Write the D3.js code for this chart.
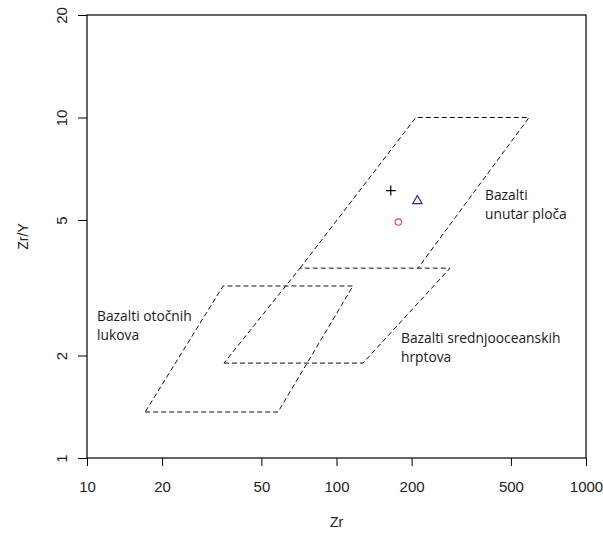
<!DOCTYPE html>
<html>
<head>
<meta charset="utf-8">
<script src="https://cdn.jsdelivr.net/npm/d3@7"></script>
<style>
  html, body { margin: 0; padding: 0; background: #fff; }
  svg { display: block; }
</style>
</head>
<body>
<script>
// ---- data ----
const xTicks = [10, 20, 50, 100, 200, 500, 1000];
const yTicks = [1, 2, 5, 10, 20];
const xDomain = [10, 1000];
const yDomain = [1, 20];

// field boundaries (Zr, Zr/Y)
const arcField  = [[17.1, 1.365], [58.3, 1.365], [116.4, 3.2], [35.1, 3.2], [17.1, 1.365]];
const morbField = [[35.4, 1.9], [127.7, 1.9], [285, 3.61], [71.4, 3.61], [35.4, 1.9]];
const wpbField  = [[71.4, 3.61], [208, 10], [591, 10], [212, 3.61]];

const sampleNames = ["S1", "S2", "S3"];
const sampleZr    = [165, 211, 177];
const sampleZrY   = [6.1, 5.69, 4.93];
const sampleSym   = ["plus", "triangle", "circle"];
const sampleColor = ["#000000", "#2e2e96", "#d0485a"];

const fieldLabels = [
  { lines: ["Bazalti otočnih", "lukova"], zr: 10.97, zry: 2.526 },
  { lines: ["Bazalti", "unutar ploča"], zr: 393.8, zry: 5.72 },
  { lines: ["Bazalti srednjooceanskih", "hrptova"], zr: 181.3, zry: 2.177 }
];

// ---- layout ----
const W = 603, H = 535;
const L = 87, R = 586, T = 15, B = 458;

const svg = d3.select("body").append("svg").attr("width", W).attr("height", H);

const x = d3.scaleLog().domain(xDomain).range([L, R]);
const y = d3.scaleLog().domain(yDomain).range([B, T]);

// x axis
const xAxis = svg.append("g").attr("transform", `translate(0,${B})`)
  .call(d3.axisBottom(x).tickValues(xTicks).tickFormat(d3.format("d"))
        .tickSize(8).tickSizeOuter(0).tickPadding(15));
xAxis.select(".domain").remove();
xAxis.selectAll("line").attr("stroke", "#000");
xAxis.selectAll("text").attr("font-family", "Liberation Sans, Arial, sans-serif")
  .attr("font-size", 15).attr("fill", "#222");

// y axis
const yAxis = svg.append("g").attr("transform", `translate(${L},0)`)
  .call(d3.axisLeft(y).tickValues(yTicks).tickFormat(d3.format("d"))
        .tickSize(9).tickSizeOuter(0));
yAxis.select(".domain").remove();
yAxis.selectAll("line").attr("stroke", "#000");
yAxis.selectAll("text")
  .attr("x", null).attr("dy", null).attr("y", 0)
  .attr("text-anchor", "middle")
  .attr("transform", "translate(-20,0) rotate(-90)")
  .attr("font-family", "Liberation Sans, Arial, sans-serif")
  .attr("font-size", 15).attr("fill", "#222");

// box
svg.append("rect").attr("x", L).attr("y", T).attr("width", R - L).attr("height", B - T)
  .attr("fill", "none").attr("stroke", "#000").attr("stroke-width", 1.2);

// axis titles
svg.append("text").attr("x", (L + R) / 2).attr("y", 527).attr("text-anchor", "middle")
  .attr("font-family", "Liberation Sans, Arial, sans-serif").attr("font-size", 14)
  .attr("fill", "#222").text("Zr");
svg.append("text").attr("transform", `translate(28,${(T + B) / 2}) rotate(-90)`)
  .attr("text-anchor", "middle")
  .attr("font-family", "Liberation Sans, Arial, sans-serif").attr("font-size", 14)
  .attr("fill", "#222").text("Zr/Y");

// fields
const line = d3.line().x(d => x(d[0])).y(d => y(d[1]));
[arcField, morbField, wpbField].forEach(f => {
  svg.append("path").attr("d", line(f)).attr("fill", "none")
    .attr("stroke", "#111").attr("stroke-width", 1).attr("stroke-dasharray", "5,3");
});

// field labels
fieldLabels.forEach(fl => {
  const t = svg.append("text").attr("x", x(fl.zr)).attr("y", y(fl.zry))
    .attr("font-family", "Open Sans, sans-serif").attr("font-size", 13.8).attr("fill", "#1a1a1a");
  fl.lines.forEach((s, i) => {
    t.append("tspan").attr("x", x(fl.zr)).attr("dy", i === 0 ? 0 : 19).text(s);
  });
});

// samples
const g = svg.append("g");
sampleNames.forEach((n, i) => {
  const cx = x(sampleZr[i]), cy = y(sampleZrY[i]);
  const sym = sampleSym[i];
  if (sym === "plus") {
    g.append("path").attr("transform", `translate(${cx},${cy})`)
      .attr("d", "M-5,0H5M0,-5V5").attr("stroke", sampleColor[i]).attr("stroke-width", 1.2).attr("fill", "none");
  } else if (sym === "triangle") {
    g.append("path").attr("transform", `translate(${cx},${cy})`)
      .attr("d", d3.symbol(d3.symbolTriangle, 38)())
      .attr("stroke", sampleColor[i]).attr("stroke-width", 1.2).attr("fill", "none");
  } else {
    g.append("circle").attr("cx", cx).attr("cy", cy).attr("r", 3.2)
      .attr("stroke", sampleColor[i]).attr("stroke-width", 1.1).attr("fill", "none");
  }
});
</script>
</body>
</html>
